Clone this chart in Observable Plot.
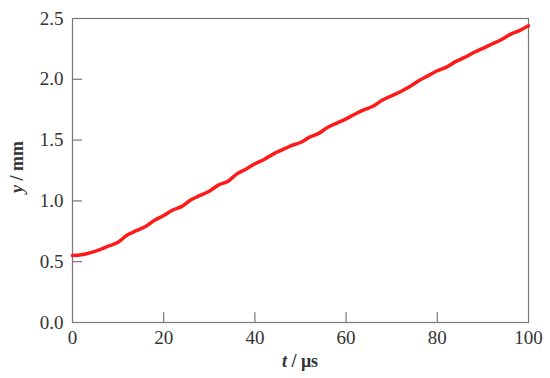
<!DOCTYPE html>
<html>
<head>
<meta charset="utf-8">
<script src="https://cdn.jsdelivr.net/npm/d3@7"></script>
<script src="https://cdn.jsdelivr.net/npm/@observablehq/plot@0.6"></script>
<style>
  html, body { margin: 0; padding: 0; background: #fff; }
  #chart svg { display: block; }
</style>
</head>
<body>
<div id="chart"></div>
<script>
const time = [0, 2, 4, 6, 8, 10, 12, 14, 16, 18, 20, 22, 24, 26, 28, 30, 32, 34, 36, 38, 40,
  42, 44, 46, 48, 50, 52, 54, 56, 58, 60, 62, 64, 66, 68, 70, 72, 74, 76, 78, 80,
  82, 84, 86, 88, 90, 92, 94, 96, 98, 100];
const displacement = [0.55, 0.557, 0.575, 0.60, 0.63, 0.66, 0.72, 0.755, 0.79, 0.84, 0.88,
  0.925, 0.955, 1.01, 1.045, 1.08, 1.13, 1.16, 1.22, 1.26, 1.305,
  1.34, 1.385, 1.42, 1.455, 1.48, 1.525, 1.555, 1.605, 1.64, 1.675,
  1.715, 1.75, 1.78, 1.83, 1.865, 1.90, 1.94, 1.99, 2.03, 2.07,
  2.10, 2.145, 2.18, 2.22, 2.255, 2.29, 2.325, 2.37, 2.40, 2.44];
const xTicks = [0, 20, 40, 60, 80, 100];
const yTicks = [0, 0.5, 1.0, 1.5, 2.0, 2.5];

const data = time.map((t, i) => ({t, y: displacement[i]}));
const font = "Liberation Serif";

const plot = Plot.plot({
  width: 550,
  height: 378,
  marginLeft: 72,
  marginRight: 22,
  marginTop: 18,
  marginBottom: 56,
  style: {fontFamily: font, fontSize: "19px", color: "#333", background: "#fff"},
  x: {domain: [0, 100]},
  y: {domain: [0, 2.5]},
  marks: [
    Plot.frame({stroke: "#777", strokeWidth: 1.2}),
    Plot.axisX(xTicks, {tickSize: 0, tickPadding: 8, label: null, fontSize: 19, fontFamily: font, fill: "#333"}),
    Plot.axisY(yTicks, {tickSize: 0, tickPadding: 9, label: null, tickFormat: d3.format(".1f"), fontSize: 19, fontFamily: font, fill: "#333"}),
    Plot.ruleX(xTicks.slice(1, -1), {x: d => d, y1: 0, y2: 0.08, stroke: "#777", strokeWidth: 1.2}),
    Plot.ruleY(yTicks.slice(1, -1), {y: d => d, x1: 0, x2: 2.2, stroke: "#777", strokeWidth: 1.2}),
    Plot.line(data, {x: "t", y: "y", stroke: "#ff1a1a", strokeWidth: 3.5, curve: "catmull-rom"})
  ]
});
document.getElementById("chart").append(plot);

const svg = d3.select(plot);
const xl = svg.append("text")
  .attr("x", 300).attr("y", 367)
  .attr("text-anchor", "middle")
  .attr("font-family", font).attr("font-size", 18).attr("font-weight", "bold").attr("fill", "#333");
xl.append("tspan").attr("font-style", "italic").text("t");
xl.append("tspan").text(" / μs");

const yl = svg.append("text")
  .attr("transform", "translate(23,167) rotate(-90)")
  .attr("text-anchor", "middle")
  .attr("font-family", font).attr("font-size", 18).attr("font-weight", "bold").attr("fill", "#333");
yl.append("tspan").attr("font-style", "italic").text("y");
yl.append("tspan").text(" / mm");
</script>
</body>
</html>
